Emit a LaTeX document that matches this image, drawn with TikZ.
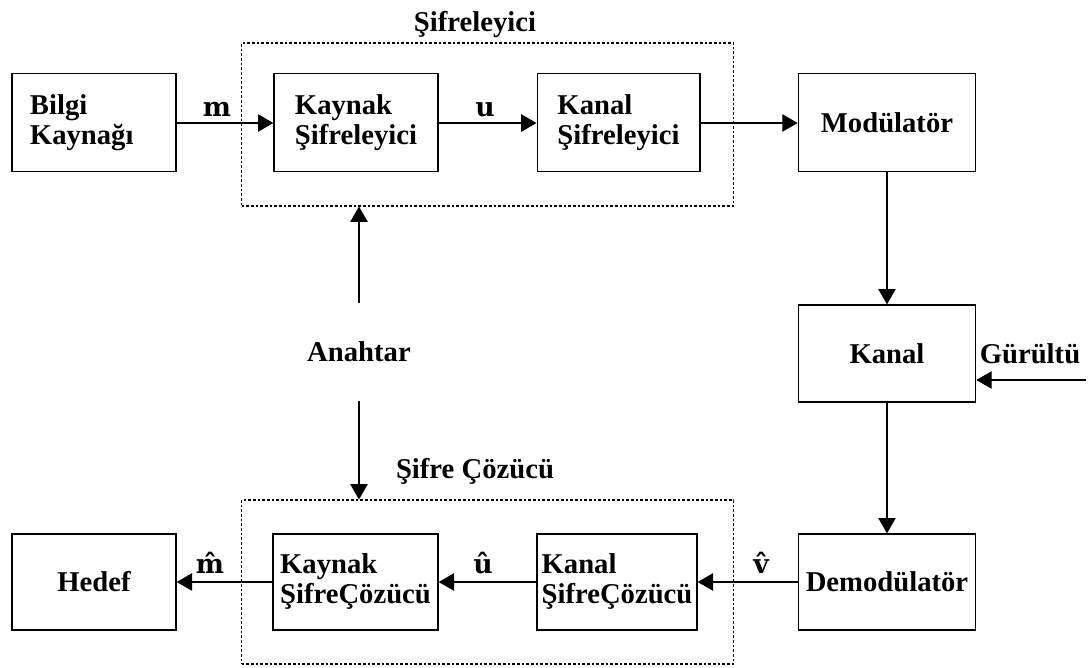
\documentclass[tikz,border=0pt]{standalone}
\usepackage{fontspec}
\setmainfont{Liberation Serif}
\newfontfamily\lblfont{DejaVu Serif}
\usetikzlibrary{arrows.meta}

\begin{document}
\begin{tikzpicture}[x=0.75pt,y=-0.75pt,
  font=\fontsize{21.5}{22.5}\selectfont\bfseries,
  blk/.style={draw, line width=1pt, inner sep=0pt, align=left},
  group/.style={draw, line width=0.8pt, dash pattern=on 2pt off 1.5pt},
  arr/.style={line width=0.9pt, -{Triangle[length=11.5pt,width=13pt]}},
  lbl/.style={font=\lblfont\fontsize{20}{20}\selectfont\bfseries, inner sep=0pt, anchor=base}
]
\useasboundingbox (0,0) rectangle (1090,668);

% encoder side
\node[blk, minimum width=123pt, minimum height=73.5pt, text width=96pt, inner xsep=13.5pt] (src) at (94,122.5) {Bilgi\\Kaynağı};
\node[blk, minimum width=123pt, minimum height=73.5pt] (senc) at (356,122.5) {Kaynak\\Şifreleyici};
\node[blk, minimum width=122pt, minimum height=73.5pt] (cenc) at (618.5,122.5) {Kanal\\Şifreleyici};
\node[blk, minimum width=133pt, minimum height=73.5pt] (mod)  at (887,122.5) {Modülatör};

% channel
\node[blk, minimum width=133pt, minimum height=72.75pt] (chan) at (887,353.5) {Kanal};
\node[inner sep=0pt, anchor=base] (noise) at (1030,363) {Gürültü};
\coordinate (nin) at (1086,380);

% decoder side
\node[blk, minimum width=133pt, minimum height=72pt] (demod) at (887,582) {Demodülatör};
\node[blk, minimum width=120pt, minimum height=72pt] (cdec)  at (617,582) {Kanal\\ŞifreÇözücü};
\node[blk, minimum width=123.75pt, minimum height=72pt] (sdec) at (355.5,582) {Kaynak\\ŞifreÇözücü};
\node[blk, minimum width=123pt, minimum height=72pt] (dst)   at (94,582) {Hedef};

% dotted groups
\node[group, minimum width=369pt, minimum height=122.25pt, inner sep=0pt] (encbox) at (487.5,124.5) {};
\node[group, minimum width=369pt, minimum height=123pt, inner sep=0pt] (decbox) at (487.5,582) {};
\node[inner sep=0pt, anchor=base] (enct) at (475,31) {Şifreleyici};
\node[inner sep=0pt, anchor=base] (dect) at (475,478) {Şifre Çözücü};

% key
\node[inner sep=0pt, minimum height=72.75pt] (key) at (359,352) {Anahtar};

% connectors
\draw[arr] (src.east |- 0,123) -- (senc.west |- 0,123);
\draw[arr] (senc.east |- 0,123) -- (cenc.west |- 0,123);
\draw[arr] (cenc.east |- 0,123) -- (mod.west |- 0,123);
\draw[arr] (mod.south) -- (chan.north);
\draw[arr] (chan.south) -- (demod.north);
\draw[arr] (nin) -- (chan.east |- nin);
\draw[arr] (demod.west |- 0,582) -- (cdec.east |- 0,582);
\draw[arr] (cdec.west |- 0,582) -- (sdec.east |- 0,582);
\draw[arr] (sdec.west |- 0,582) -- (dst.east |- 0,582);
\draw[arr] (key.north) -- (key.north |- encbox.south);
\draw[arr] (key.south) -- (key.south |- decbox.north);

% signal labels
\node[lbl] (lm)  at (217,116) {m};
\node[lbl] (lu)  at (485,116) {u};
\node[lbl] (lmh) at (210,573) {\^{m}};
\node[lbl] (luh) at (483,573) {\^{u}};
\node[lbl] (lvh) at (761,573) {\^{v}};
\end{tikzpicture}
\end{document}
